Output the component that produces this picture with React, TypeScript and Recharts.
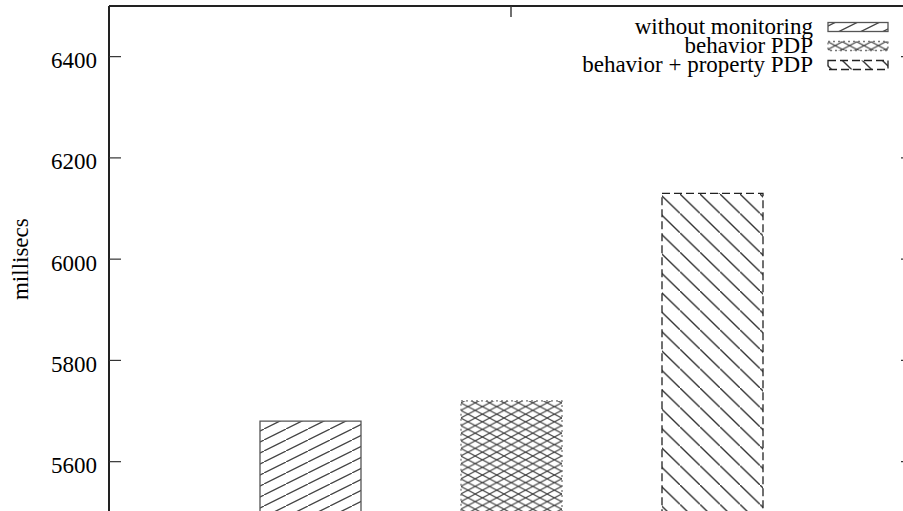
import React from "react";
import { BarChart, Bar, XAxis, YAxis, Legend } from "recharts";

const FONT = "'Liberation Serif', 'Times New Roman', serif";

// one cluster, three bars
const categories = [""];
const seriesNames = ["without monitoring", "behavior PDP", "behavior + property PDP"];
const seriesKeys = ["plain", "behavior", "property"];
const seriesValues = [5680, 5720, 6130];
const yTicks = [5600, 5800, 6000, 6200, 6400];
const yDomain = [5500, 6500];

const data = categories.map((c) => {
  const row: Record<string, string | number> = { name: c };
  seriesKeys.forEach((k, i) => (row[k] = seriesValues[i]));
  return row;
});

const FILLS = ["url(#hatchUp)", "url(#hatchCross)", "url(#hatchDown)"];
const BORDERS = [
  { stroke: "#555", dash: undefined as string | undefined },
  { stroke: "#777", dash: "2 3" },
  { stroke: "#222", dash: "8 4" },
];

function Patterns() {
  return (
    <defs>
      <pattern id="hatchUp" patternUnits="userSpaceOnUse" width={22} height={11}>
        <line x1={0} y1={11} x2={22} y2={0} stroke="#444" strokeWidth={1.3} />
      </pattern>
      <pattern id="hatchCross" patternUnits="userSpaceOnUse" width={14.4} height={7.6}>
        <line x1={0} y1={7.6} x2={14.4} y2={0} stroke="#444" strokeWidth={1.1} />
        <line x1={0} y1={0} x2={14.4} y2={7.6} stroke="#444" strokeWidth={1.1} />
      </pattern>
      <pattern id="hatchDown" patternUnits="userSpaceOnUse" width={20} height={19.4}>
        <line x1={0} y1={0} x2={20} y2={19.4} stroke="#333" strokeWidth={1.4} />
      </pattern>
    </defs>
  );
}

// eslint-disable-next-line @typescript-eslint/no-explicit-any
function LeftTick({ x, y, payload }: any) {
  return (
    <g>
      <line x1={x} y1={y} x2={x + 12} y2={y} stroke="#333" strokeWidth={1.2} />
      <text x={x - 12} y={y + 11.5} textAnchor="end" fontFamily={FONT} fontSize={23} fill="#000">
        {payload.value}
      </text>
    </g>
  );
}

// eslint-disable-next-line @typescript-eslint/no-explicit-any
function RightTick({ x, y }: any) {
  return <line x1={x} y1={y} x2={x - 12} y2={y} stroke="#333" strokeWidth={1.2} />;
}

// eslint-disable-next-line @typescript-eslint/no-explicit-any
function TopTick({ x, y }: any) {
  return <line x1={x} y1={y} x2={x} y2={y + 11} stroke="#333" strokeWidth={1.4} />;
}

// eslint-disable-next-line @typescript-eslint/no-explicit-any
function YLabel({ viewBox }: any) {
  const cy = viewBox.y + viewBox.height / 2;
  return (
    <text x={28} y={cy} transform={`rotate(-90, 28, ${cy})`} textAnchor="middle"
      fontFamily={FONT} fontSize={23} fill="#000">
      millisecs
    </text>
  );
}

function Key() {
  return (
    <svg width={903} height={90} style={{ display: "block" }}>
      <Patterns />
      {seriesNames.map((n, i) => {
        const base = 34 + i * 19;
        return (
          <g key={n}>
            <text x={813} y={base} textAnchor="end" fontFamily={FONT} fontSize={23} fill="#000">{n}</text>
            <rect x={828} y={base - 11.5} width={60} height={9} fill={FILLS[i]}
              stroke={BORDERS[i].stroke} strokeWidth={1.3} strokeDasharray={BORDERS[i].dash} />
          </g>
        );
      })}
    </svg>
  );
}

export default function App() {
  return (
    <div style={{ position: "absolute", left: 0, top: 0, width: 903, height: 511, overflow: "hidden", background: "#fff" }}>
      <BarChart width={930} height={530} data={data} barSize={101} barGap={100}
        margin={{ top: 5, right: 16, left: 0, bottom: 17.7 }}>
        <Patterns />
        <XAxis dataKey="name" orientation="top" height={1} tickSize={0} tickMargin={0}
          axisLine={{ stroke: "#222", strokeWidth: 2 }} tickLine={false} tick={<TopTick />} interval={0} />
        <YAxis type="number" domain={yDomain} ticks={yTicks} allowDataOverflow width={109}
          tickSize={0} tickMargin={0} tickLine={false} tick={<LeftTick />} interval={0}
          axisLine={{ stroke: "#222", strokeWidth: 2 }} label={<YLabel />} />
        <YAxis yAxisId="r" orientation="right" type="number" domain={yDomain} ticks={yTicks}
          allowDataOverflow width={1} tickSize={0} tickMargin={0} tickLine={false}
          tick={<RightTick />} interval={0} axisLine={{ stroke: "#222", strokeWidth: 2 }} />
        <Legend layout="horizontal" verticalAlign="middle" align="center"
          wrapperStyle={{ position: "absolute", left: 0, top: 0, width: 903, height: 90 }}
          content={() => <Key />} />
        {seriesKeys.map((k, i) => (
          <Bar key={k} dataKey={k} name={seriesNames[i]} fill={FILLS[i]}
            stroke={BORDERS[i].stroke} strokeWidth={1.3} strokeDasharray={BORDERS[i].dash}
            isAnimationActive={false} />
        ))}
      </BarChart>
    </div>
  );
}
